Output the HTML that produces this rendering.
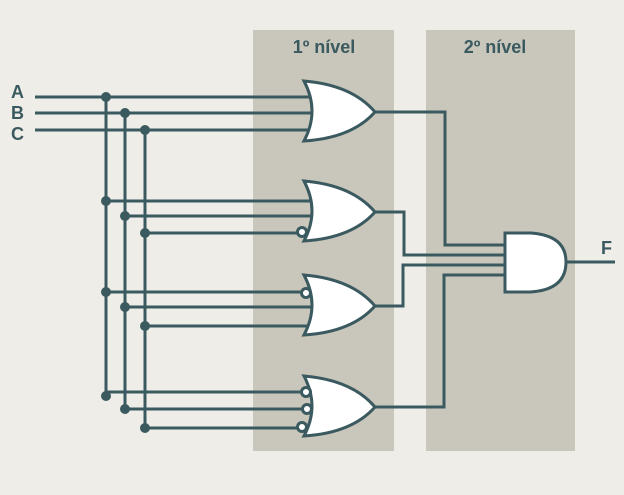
<!DOCTYPE html>
<html><head><style>
html,body{margin:0;padding:0;background:#efede7;}
svg{display:block;}
text{font-family:"Liberation Sans",sans-serif;font-weight:bold;fill:#3a5a60;}
</style></head><body>
<svg width="624" height="495" viewBox="0 0 624 495">
<rect width="624" height="495" fill="#efede7"/>
<rect x="253" y="30" width="141" height="421" fill="#c9c6bb"/>
<rect x="426" y="30" width="149" height="421" fill="#c9c6bb"/>
<text x="324" y="53" font-size="18" text-anchor="middle">1º nível</text>
<text x="495" y="53" font-size="18" text-anchor="middle">2º nível</text>
<text x="11" y="98" font-size="18">A</text>
<text x="11" y="119" font-size="18">B</text>
<text x="11" y="140" font-size="18">C</text>
<text x="601" y="254" font-size="18">F</text>
<g stroke="#3a5a60" stroke-width="3" fill="none">
<path d="M35,97H312M35,113H312M35,130H312"/>
<path d="M106,97V396M125,113V409M145,130V428"/>
<path d="M106,201H312M125,216H312M145,233H298"/>
<path d="M106,292H302M125,307H312M145,326H312"/>
<path d="M106,392H302M125,409H303M145,428H298"/>
<path d="M375,112H445V245H505M375,212H404V255H505M375,306H403V265H505M375,407H444V275H505M566,262H615"/>
</g>
<g fill="#3a5a60">
<circle cx="106" cy="97" r="5"/><circle cx="125" cy="113" r="5"/><circle cx="145" cy="130" r="5"/>
<circle cx="106" cy="201" r="5"/><circle cx="125" cy="216" r="5"/><circle cx="145" cy="233" r="5"/>
<circle cx="106" cy="292" r="5"/><circle cx="125" cy="307" r="5"/><circle cx="145" cy="326" r="5"/>
<circle cx="106" cy="396" r="5"/><circle cx="125" cy="409" r="5"/><circle cx="145" cy="428" r="5"/>
</g>
<g stroke="#3a5a60" stroke-width="3" fill="#fff">
<path d="M304,81Q320,111 304,141Q352,138 375,112Q352,85 304,81Z"/>
<path d="M304,181Q320,211 304,241Q352,238 375,212Q352,185 304,181Z"/>
<path d="M304,275Q320,305 304,335Q352,332 375,306Q352,279 304,275Z"/>
<path d="M304,376Q320,406 304,436Q352,433 375,407Q352,380 304,376Z"/>
<path d="M505,233H530Q566,235 566,262Q566,290 530,292H505Z"/>
<circle cx="302" cy="232" r="4.5"/>
<circle cx="306" cy="293" r="4.5"/>
<circle cx="306" cy="392" r="4.5"/>
<circle cx="307" cy="409" r="4.5"/>
<circle cx="302" cy="427" r="4.5"/>
</g>
</svg>
</body></html>
